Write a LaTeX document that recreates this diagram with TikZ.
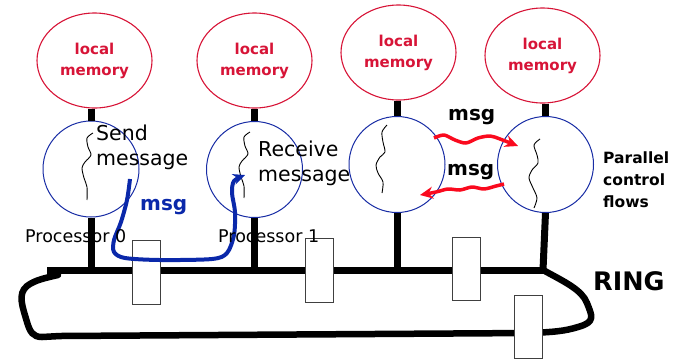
\documentclass[tikz,border=0pt]{standalone}
\usepackage{fontspec}
\setmainfont{DejaVu Sans}
\usetikzlibrary{shapes.geometric,arrows.meta}
\definecolor{memred}{RGB}{215,20,55}
\definecolor{procblue}{RGB}{25,45,165}
\definecolor{pathblue}{RGB}{10,40,170}
\definecolor{msgred}{RGB}{250,10,30}
\begin{document}
\begin{tikzpicture}[x=1pt,y=-1pt,
  mem/.style={ellipse,draw=memred,line width=1.1pt,minimum width=115pt,minimum height=95pt,
    inner sep=0pt,text=memred,font=\bfseries\fontsize{15}{21}\selectfont,align=center},
  proc/.style={circle,draw=procblue,line width=1pt,minimum size=96pt,inner sep=0pt},
  bar/.style={line width=7pt},
  ring/.style={line width=6.5pt,line join=round,line cap=round},
  relay/.style={draw=black!75,fill=white,line width=1pt,minimum width=28pt,minimum height=64pt,inner sep=0pt},
  thread/.style={line width=0.9pt},
  redmsg/.style={draw=msgred,line width=3.5pt,line join=round,-{Stealth[length=13pt,width=12pt]}},
  lbl/.style={inner sep=0pt,anchor=base west,align=left},
  bigtxt/.style={font=\fontsize{20.5}{25}\selectfont},
  proctxt/.style={font=\fontsize{17.5}{20}\selectfont},
  msgtxt/.style={font=\bfseries\fontsize{20}{24}\selectfont}
]
\useasboundingbox (0,0) rectangle (682,360);

% local memories
\node[mem] (m1) at (94.5,60.5) {local\\memory};
\node[mem] (m2) at (254.5,60.5) {local\\memory};
\node[mem] (m3) at (398.5,52.5) {local\\memory};
\node[mem] (m4) at (542.5,55.5) {local\\memory};

% processors
\node[proc] (p1) at (91,169) {};
\node[proc] (p2) at (254.5,169.5) {};
\node[proc] (p3) at (397,164.5) {};
\node[proc] (p4) at (545.5,164.5) {};

% memory to processor links
\foreach \i in {1,...,4}
  \draw[bar] (p\i.north |- m\i.south) -- (p\i.north);

% bus ends
\coordinate (busL) at (47,270);
\coordinate (busR) at (543,270);

% processor to bus links
\foreach \i in {1,2,3}
  \draw[bar] (p\i.south) -- (p\i.south |- busL);
\draw[bar] (p4.south) -- (busR);

% ring
\draw[bar] (busL) -- (busR);
\draw[ring] (busR) .. controls (565,282) and (582,290) .. (587,303)
  .. controls (592,316) and (596,322) .. (578,327)
  .. controls (565,331) and (555,332) .. (530,333) -- (60,336) -- (42,337)
  .. controls (33,337) and (30,332) .. (27,322)
  .. controls (23,308) and (17,294) .. (27,286)
  .. controls (35,280) and (45,278) .. (58,275);

% relay boxes on the ring
\node[relay] (r1) at (146,272) {};
\node[relay] (r2) at (319,270) {};
\node[relay,minimum height=63pt] (r3) at (466,268.5) {};
\node[relay,minimum height=63pt] (r4) at (528,326.5) {};

% control flows inside the processors
\draw[thread] plot[smooth] coordinates {(93,133) (87,138) (88,147) (91,155) (85,162) (82,168) (84,178) (87,187) (87,200)};
\draw[thread] plot[smooth] coordinates {(250,132) (244,137) (245,146) (248,154) (242,161) (239,167) (241,177) (244,186) (244,198)};
\draw[thread] plot[smooth] coordinates {(387,125) (382,132) (383,142) (385,152) (380,157) (376,165) (378,173) (383,182) (382,193)};
\draw[thread] plot[smooth] coordinates {(540,139) (534,145) (537,155) (538,163) (532,170) (529,178) (533,188) (537,198) (534,208)};

% message from processor 0 to processor 1
\coordinate (sendpt) at (130,179);
\coordinate (recvpt) at (245,175);
\draw[line width=4pt,pathblue,line join=round,-{Stealth[length=12pt,width=11pt]}]
  plot[smooth] coordinates {(sendpt) (127,200) (121,222) (114,240) (114,252) (125,258) (160,260)
  (212,259) (227,253) (234,235) (235,212) (232,193) (234,181) (recvpt)};

% messages between the two right processors
\coordinate (a1s) at (434,138);
\coordinate (a1e) at (518,146);
\coordinate (a2s) at (504,184);
\coordinate (a2e) at (420,195);
\draw[redmsg] plot[smooth] coordinates {(a1s) (444,135) (455,140) (466,143) (478,138) (490,136) (500,139) (a1e)};
\draw[redmsg] plot[smooth] coordinates {(a2s) (496,186) (484,189) (472,187) (460,190) (448,189) (436,192) (a2e)};

% labels (base anchor sits on the last line)
\node[lbl,bigtxt] (send) at (96,165) {Send\\message};
\node[lbl,bigtxt] (recv) at (258,181) {Receive\\message};
\node[lbl,proctxt] (pn0) at (25,242) {Processor 0};
\node[lbl,proctxt] (pn1) at (218,242) {Processor 1};
\node[lbl,msgtxt,text=pathblue] (msg0) at (140,210) {msg};
\node[lbl,msgtxt] (msg1) at (448,120) {msg};
\node[lbl,msgtxt] (msg2) at (447,175) {msg};
\node[lbl,font=\bfseries\fontsize{15.5}{22}\selectfont] (pcf) at (603,207) {Parallel\\control\\flows};
\node[lbl,font=\bfseries\fontsize{25.5}{30}\selectfont] (ring) at (593,290) {RING};
\end{tikzpicture}
\end{document}
